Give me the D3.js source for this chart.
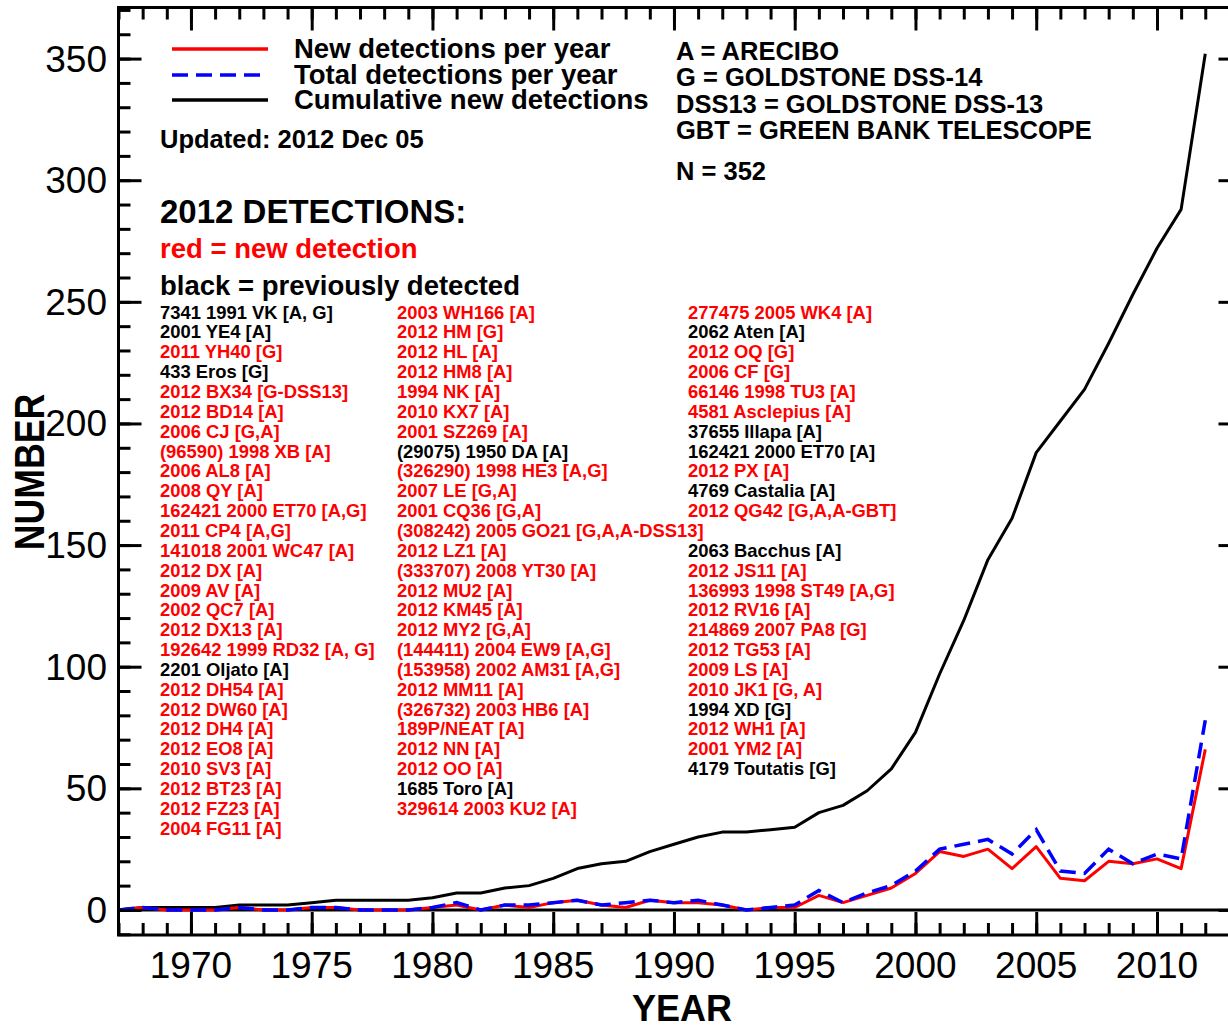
<!DOCTYPE html>
<html>
<head>
<meta charset="utf-8">
<script src="https://cdn.jsdelivr.net/npm/d3@7"></script>
<style>
  body { margin: 0; background: #fff; }
  svg { display: block; }
  text { font-family: "Liberation Sans", Arial, Helvetica, sans-serif; }
</style>
</head>
<body>
<svg id="chart" width="1228" height="1029"></svg>
<script>
// Radar detections of near-Earth asteroids, by year
const years = [1967, 1968, 1969, 1970, 1971, 1972, 1973, 1974, 1975, 1976,
  1977, 1978, 1979, 1980, 1981, 1982, 1983, 1984, 1985, 1986,
  1987, 1988, 1989, 1990, 1991, 1992, 1993, 1994, 1995, 1996,
  1997, 1998, 1999, 2000, 2001, 2002, 2003, 2004, 2005, 2006,
  2007, 2008, 2009, 2010, 2011, 2012];

const newPerYear = [0, 1, 0, 0, 0, 1, 0, 0, 1, 1,
  0, 0, 0, 1, 2, 0, 2, 1, 3, 4,
  2, 1, 4, 3, 3, 2, 0, 1, 1, 6,
  3, 6, 9, 15, 24, 22, 25, 17, 26, 13,
  12, 20, 19, 21, 17, 66];

const totalPerYear = [0, 1, 0, 0, 0, 1, 0, 0, 1, 1,
  0, 0, 0, 1, 3, 0, 2, 2, 3, 4,
  2, 3, 4, 3, 4, 2, 0, 1, 2, 8,
  3, 7, 10, 16, 25, 27, 29, 23, 33, 16,
  15, 25, 19, 23, 21, 78];

const cumulative = [0, 1, 1, 1, 1, 2, 2, 2, 3, 4,
  4, 4, 4, 5, 7, 7, 9, 10, 13, 17,
  19, 20, 24, 27, 30, 32, 32, 33, 34, 40,
  43, 49, 58, 73, 97, 119, 144, 161, 188, 201,
  214, 233, 253, 272, 288, 352];

const yTickValues = [0, 50, 100, 150, 200, 250, 300, 350];
const xTickValues = [1970, 1975, 1980, 1985, 1990, 1995, 2000, 2005, 2010];

const legendLabels = ["New detections per year", "Total detections per year", "Cumulative new detections"];
const stationKey = ["A = ARECIBO", "G = GOLDSTONE DSS-14", "DSS13 = GOLDSTONE DSS-13", "GBT = GREEN BANK TELESCOPE"];
const totalLabel = "N = 352";
const updatedLabel = "Updated: 2012 Dec 05";

// 2012 objects: [designation, 1 = first radar detection, 0 = previously detected]
const listColumn1 = [
  ["7341 1991 VK [A, G]", 0], ["2001 YE4 [A]", 0], ["2011 YH40 [G]", 1], ["433 Eros [G]", 0],
  ["2012 BX34 [G-DSS13]", 1], ["2012 BD14 [A]", 1], ["2006 CJ [G,A]", 1], ["(96590) 1998 XB [A]", 1],
  ["2006 AL8 [A]", 1], ["2008 QY [A]", 1], ["162421 2000 ET70 [A,G]", 1], ["2011 CP4 [A,G]", 1],
  ["141018 2001 WC47 [A]", 1], ["2012 DX [A]", 1], ["2009 AV [A]", 1], ["2002 QC7 [A]", 1],
  ["2012 DX13 [A]", 1], ["192642 1999 RD32 [A, G]", 1], ["2201 Oljato [A]", 0], ["2012 DH54 [A]", 1],
  ["2012 DW60 [A]", 1], ["2012 DH4 [A]", 1], ["2012 EO8 [A]", 1], ["2010 SV3 [A]", 1],
  ["2012 BT23 [A]", 1], ["2012 FZ23 [A]", 1], ["2004 FG11 [A]", 1]
];
const listColumn2 = [
  ["2003 WH166 [A]", 1], ["2012 HM [G]", 1], ["2012 HL [A]", 1], ["2012 HM8 [A]", 1],
  ["1994 NK [A]", 1], ["2010 KX7 [A]", 1], ["2001 SZ269 [A]", 1], ["(29075) 1950 DA [A]", 0],
  ["(326290) 1998 HE3 [A,G]", 1], ["2007 LE [G,A]", 1], ["2001 CQ36 [G,A]", 1], ["(308242) 2005 GO21 [G,A,A-DSS13]", 1],
  ["2012 LZ1 [A]", 1], ["(333707) 2008 YT30 [A]", 1], ["2012 MU2 [A]", 1], ["2012 KM45 [A]", 1],
  ["2012 MY2 [G,A]", 1], ["(144411) 2004 EW9 [A,G]", 1], ["(153958) 2002 AM31 [A,G]", 1], ["2012 MM11 [A]", 1],
  ["(326732) 2003 HB6 [A]", 1], ["189P/NEAT [A]", 1], ["2012 NN [A]", 1], ["2012 OO [A]", 1],
  ["1685 Toro [A]", 0], ["329614 2003 KU2 [A]", 1]
];
const listColumn3 = [
  ["277475 2005 WK4 [A]", 1], ["2062 Aten [A]", 0], ["2012 OQ [G]", 1], ["2006 CF [G]", 1],
  ["66146 1998 TU3 [A]", 1], ["4581 Asclepius [A]", 1], ["37655 Illapa [A]", 0], ["162421 2000 ET70 [A]", 0],
  ["2012 PX [A]", 1], ["4769 Castalia [A]", 0], ["2012 QG42 [G,A,A-GBT]", 1], ["", 0],
  ["2063 Bacchus [A]", 0], ["2012 JS11 [A]", 1], ["136993 1998 ST49 [A,G]", 1], ["2012 RV16 [A]", 1],
  ["214869 2007 PA8 [G]", 1], ["2012 TG53 [A]", 1], ["2009 LS [A]", 1], ["2010 JK1 [G, A]", 1],
  ["1994 XD [G]", 0], ["2012 WH1 [A]", 1], ["2001 YM2 [A]", 1], ["4179 Toutatis [G]", 0]
];

const RED = "#ff0000", BLUE = "#0000ff", BLACK = "#000000";

const svg = d3.select("#chart");
const frame = { left: 118.5, right: 1241.5, top: 7.5, bottom: 935 };

const x = d3.scaleLinear().domain([1967, 2013.5]).range([frame.left, frame.right]);
const y = d3.scaleLinear().domain([-10.3, 371]).range([frame.bottom, frame.top]);

const rows = years.map((yr, i) => ({ yr, n: newPerYear[i], t: totalPerYear[i], c: cumulative[i] }));

// Horizontal reference at zero
svg.append("line")
  .attr("x1", frame.left).attr("x2", frame.right)
  .attr("y1", y(0)).attr("y2", y(0))
  .attr("stroke", BLACK).attr("stroke-width", 3);

const line = key => d3.line().x(d => x(d.yr)).y(d => y(d[key]));

svg.append("path").datum(rows).attr("d", line("c"))
  .attr("fill", "none").attr("stroke", BLACK).attr("stroke-width", 3).attr("stroke-linejoin", "round");
svg.append("path").datum(rows).attr("d", line("n"))
  .attr("fill", "none").attr("stroke", RED).attr("stroke-width", 3).attr("stroke-linejoin", "round");
svg.append("path").datum(rows).attr("d", line("t"))
  .attr("fill", "none").attr("stroke", BLUE).attr("stroke-width", 3.5)
  .attr("stroke-dasharray", "16,8");

// Axes on all four sides, ticks pointing inward
const MAJOR = 23, MINOR = 12;
const axisStyle = g => {
  g.select(".domain").remove();
  g.selectAll(".tick line").attr("stroke", BLACK).attr("stroke-width", 3);
  g.selectAll("text").remove();
};
const xMinor = d3.range(1967, 2014);
const yMinor = d3.range(-10, 371, 10);

[[frame.bottom, d3.axisTop], [frame.top, d3.axisBottom]].forEach(([yy, axisFn]) => {
  svg.append("g").attr("transform", `translate(0,${yy})`)
    .call(axisFn(x).tickValues(xMinor).tickSize(MINOR)).call(axisStyle);
  svg.append("g").attr("transform", `translate(0,${yy})`)
    .call(axisFn(x).tickValues(xTickValues).tickSize(MAJOR)).call(axisStyle);
});
[[frame.left, d3.axisRight], [frame.right, d3.axisLeft]].forEach(([xx, axisFn]) => {
  svg.append("g").attr("transform", `translate(${xx},0)`)
    .call(axisFn(y).tickValues(yMinor).tickSize(MINOR)).call(axisStyle);
  svg.append("g").attr("transform", `translate(${xx},0)`)
    .call(axisFn(y).tickValues(yTickValues).tickSize(MAJOR)).call(axisStyle);
});

// Frame
svg.append("rect")
  .attr("x", frame.left).attr("y", frame.top)
  .attr("width", frame.right - frame.left).attr("height", frame.bottom - frame.top)
  .attr("fill", "none").attr("stroke", BLACK).attr("stroke-width", 3);

// Tick labels
svg.append("g").selectAll("text").data(yTickValues).join("text")
  .attr("x", 107).attr("y", d => y(d) + 13)
  .attr("text-anchor", "end").attr("font-size", 37).attr("fill", BLACK)
  .text(d => d);
svg.append("g").selectAll("text").data(xTickValues).join("text")
  .attr("x", d => x(d)).attr("y", 978)
  .attr("text-anchor", "middle").attr("font-size", 37).attr("fill", BLACK)
  .text(d => d);

// Axis titles
svg.append("text")
  .attr("transform", "translate(44,472) rotate(-90) scale(0.85,1)")
  .attr("text-anchor", "middle").attr("font-size", 42).attr("font-weight", "bold")
  .text("NUMBER");
svg.append("text")
  .attr("x", 682).attr("y", 1021)
  .attr("text-anchor", "middle").attr("font-size", 36).attr("font-weight", "bold")
  .text("YEAR");

// Legend
const legendStyles = [
  { color: RED, dash: null, width: 3.5 },
  { color: BLUE, dash: "16,8", width: 3.5 },
  { color: BLACK, dash: null, width: 3.5 }
];
const legendY = [49, 75, 100];
legendLabels.forEach((lab, i) => {
  svg.append("line")
    .attr("x1", 172).attr("x2", 268).attr("y1", legendY[i]).attr("y2", legendY[i])
    .attr("stroke", legendStyles[i].color).attr("stroke-width", legendStyles[i].width)
    .attr("stroke-dasharray", legendStyles[i].dash);
  svg.append("text")
    .attr("x", 294).attr("y", legendY[i] + 9)
    .attr("font-size", 27.5).attr("font-weight", "bold")
    .text(lab);
});

svg.append("text").attr("x", 160).attr("y", 148)
  .attr("font-size", 25.5).attr("font-weight", "bold").text(updatedLabel);

const keyY = [60, 86, 113, 139];
stationKey.forEach((s, i) => {
  svg.append("text").attr("x", 676).attr("y", keyY[i])
    .attr("font-size", 25.5).attr("font-weight", "bold").text(s);
});
svg.append("text").attr("x", 676).attr("y", 180)
  .attr("font-size", 25.5).attr("font-weight", "bold").text(totalLabel);

// 2012 detections block
svg.append("text").attr("x", 160).attr("y", 223)
  .attr("font-size", 33).attr("font-weight", "bold").text("2012 DETECTIONS:");
svg.append("text").attr("x", 160).attr("y", 258)
  .attr("font-size", 27.5).attr("font-weight", "bold").attr("fill", RED).text("red = new detection");
svg.append("text").attr("x", 160).attr("y", 295)
  .attr("font-size", 27.5).attr("font-weight", "bold").attr("fill", BLACK).text("black = previously detected");

const listTop = 318.6, listStep = 19.85;
[[listColumn1, 160], [listColumn2, 397], [listColumn3, 688]].forEach(([col, cx]) => {
  svg.append("g").selectAll("text").data(col).join("text")
    .attr("x", cx).attr("y", (d, i) => listTop + i * listStep)
    .attr("font-size", 18.4).attr("font-weight", "bold")
    .attr("fill", d => d[1] ? RED : BLACK)
    .text(d => d[0]);
});
</script>
</body>
</html>
